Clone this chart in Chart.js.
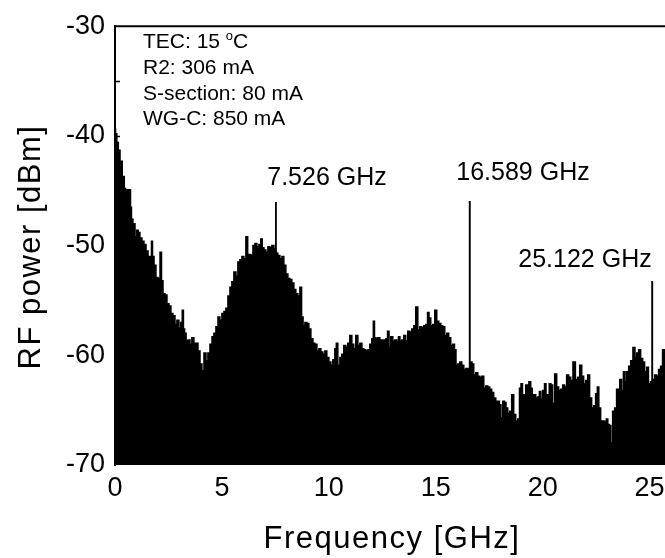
<!DOCTYPE html>
<html>
<head>
<meta charset="utf-8">
<script src="https://cdn.jsdelivr.net/npm/chart.js@4.4.1/dist/chart.umd.min.js"></script>
<style>
  html, body { margin: 0; padding: 0; background: #fff; overflow: hidden; }
  #wrap { position: absolute; left: 0; top: 0; width: 690px; height: 558px; }
</style>
</head>
<body>
<div id="wrap"><canvas id="c"></canvas></div>
<script>
// Frequency axis values (GHz)
const freq = [
  0.00,0.05,0.12,0.19,0.28,0.40,0.47,0.51,0.56,0.63,0.70,0.75,0.79,0.89,0.98,1.05,1.12,1.21,1.31,1.40,
  1.50,1.59,1.68,1.73,1.78,1.87,1.96,2.06,2.15,2.20,2.29,2.38,2.48,2.57,2.66,2.76,2.85,2.94,3.04,3.11,
  3.18,3.22,3.29,3.36,3.46,3.55,3.64,3.74,3.83,3.93,4.02,4.11,4.21,4.30,4.39,4.49,4.58,4.67,4.77,4.86,
  4.95,5.05,5.14,5.23,5.33,5.42,5.51,5.61,5.70,5.79,5.89,5.98,6.07,6.17,6.24,6.31,6.40,6.50,6.59,6.68,
  6.78,6.85,6.92,7.01,7.10,7.20,7.29,7.38,7.48,7.51,7.526,7.54,7.57,7.66,7.76,7.85,7.94,8.04,8.13,8.22,
  8.32,8.41,8.50,8.60,8.69,8.76,8.83,8.93,9.02,9.11,9.21,9.30,9.39,9.49,9.58,9.67,9.77,9.86,9.95,10.05,
  10.14,10.23,10.33,10.37,10.47,10.56,10.65,10.75,10.84,10.93,11.03,11.12,11.21,11.31,11.40,11.50,11.59,11.68,11.78,11.87,
  11.96,12.06,12.10,12.17,12.24,12.34,12.43,12.52,12.62,12.71,12.78,12.85,12.94,13.04,13.13,13.22,13.29,13.36,13.46,13.55,
  13.64,13.74,13.83,13.93,14.02,14.11,14.21,14.30,14.39,14.49,14.58,14.65,14.72,14.81,14.91,15.00,15.09,15.19,15.28,15.37,
  15.47,15.56,15.65,15.75,15.84,15.91,15.98,16.07,16.17,16.26,16.36,16.45,16.52,16.57,16.589,16.61,16.66,16.73,16.82,16.92,
  17.01,17.10,17.20,17.29,17.38,17.48,17.57,17.66,17.76,17.85,17.94,18.01,18.08,18.18,18.25,18.32,18.41,18.50,18.60,18.69,
  18.79,18.88,18.95,19.02,19.09,19.16,19.25,19.32,19.39,19.49,19.53,19.63,19.72,19.81,19.88,19.95,20.05,20.12,20.19,20.26,
  20.35,20.42,20.51,20.61,20.70,20.79,20.89,20.98,21.07,21.17,21.26,21.36,21.47,21.59,21.68,21.78,21.87,21.96,22.06,22.15,
  22.24,22.34,22.43,22.52,22.59,22.66,22.76,22.85,22.94,23.01,23.08,23.15,23.22,23.32,23.41,23.50,23.57,23.64,23.74,23.81,
  23.88,23.97,24.07,24.16,24.28,24.35,24.44,24.53,24.63,24.72,24.81,24.91,24.98,25.10,25.122,25.14,25.19,25.28,25.37,25.47,
  25.56,25.65,25.75,25.93
];
// RF power values (dBm)
const power = [
  -39.4,-39.8,-40.6,-41.3,-42.3,-43.7,-44.8,-46.5,-44.9,-46.8,-44.9,-46.5,-47.6,-48.0,-49.2,-48.6,-48.8,-49.3,-49.6,-49.9,
  -50.5,-51.0,-51.2,-49.6,-51.0,-51.8,-52.9,-53.0,-50.6,-53.2,-54.4,-54.5,-55.3,-55.5,-56.2,-56.4,-57.2,-56.8,-57.5,-57.0,
  -55.9,-57.6,-58.0,-58.7,-58.6,-59.0,-58.4,-58.9,-58.9,-59.6,-60.8,-61.4,-59.8,-60.5,-59.8,-59.0,-58.3,-58.0,-57.4,-56.5,
  -56.8,-56.2,-56.0,-55.7,-54.6,-53.8,-53.3,-52.4,-52.8,-51.5,-51.3,-51.0,-51.2,-49.2,-51.0,-50.8,-50.9,-50.0,-49.8,-50.1,
  -49.9,-49.4,-50.2,-50.4,-50.6,-50.1,-50.2,-50.0,-50.4,-50.3,-46.1,-50.6,-50.7,-50.9,-51.2,-51.0,-51.8,-52.6,-53.0,-53.1,
  -53.4,-54.0,-54.4,-54.6,-53.8,-56.5,-57.3,-57.0,-57.1,-57.6,-58.5,-58.9,-59.0,-59.6,-59.4,-59.7,-59.9,-59.6,-60.2,-60.6,
  -60.9,-60.4,-59.4,-58.9,-60.9,-60.2,-59.9,-59.1,-59.3,-58.9,-58.2,-59.0,-59.4,-58.2,-59.1,-58.9,-59.4,-59.5,-59.6,-59.5,
  -59.0,-58.5,-56.9,-58.4,-58.5,-58.4,-58.6,-58.6,-58.6,-58.5,-57.8,-59.3,-58.3,-58.7,-58.6,-58.8,-58.3,-58.7,-58.6,-58.2,
  -58.7,-57.8,-57.9,-57.6,-57.3,-55.6,-57.7,-57.4,-57.5,-57.3,-57.2,-56.1,-56.6,-57.3,-57.2,-55.9,-56.9,-57.1,-57.3,-57.4,
  -58.2,-58.0,-58.4,-59.1,-59.0,-59.5,-60.9,-60.8,-60.6,-60.9,-61.3,-61.2,-61.4,-61.2,-46.0,-60.7,-60.6,-60.8,-61.8,-61.6,
  -61.9,-62.0,-61.9,-63.0,-62.8,-62.9,-63.1,-63.4,-63.9,-64.2,-64.2,-64.5,-65.7,-64.2,-64.3,-64.8,-65.3,-65.1,-63.6,-65.4,
  -66.0,-65.8,-63.0,-62.6,-64.5,-63.6,-62.7,-64.0,-62.4,-63.0,-66.0,-63.6,-63.9,-63.8,-63.3,-64.0,-63.2,-62.6,-63.8,-63.6,
  -62.6,-62.7,-64.4,-61.7,-62.9,-63.2,-63.1,-62.7,-62.9,-61.8,-62.0,-62.3,-60.6,-62.2,-62.0,-60.9,-61.9,-62.6,-62.3,-61.8,
  -63.9,-64.8,-64.6,-63.5,-62.9,-64.8,-66.0,-66.0,-66.1,-65.8,-66.3,-66.4,-68.0,-65.1,-64.8,-63.1,-64.5,-62.2,-63.2,-61.5,
  -62.4,-61.5,-61.0,-60.5,-59.3,-60.2,-59.8,-59.5,-60.3,-60.6,-61.5,-61.1,-62.6,-62.4,-53.3,-62.2,-62.4,-61.8,-61.9,-61.3,
  -61.0,-59.5,-59.6,-60.0
];
// Tick labels / settings
const xTicks = [0, 5, 10, 15, 20, 25];
const yTicks = [-70, -60, -50, -40, -30];
const xTitle = 'Frequency [GHz]';
const yTitle = 'RF power [dBm]';
const infoLines = ['TEC: 15 ', 'R2: 306 mA', 'S-section: 80 mA', 'WG-C: 850 mA'];
const peakLabels = ['7.526 GHz', '16.589 GHz', '25.122 GHz'];

const points = freq.map((f, i) => ({ x: f, y: power[i] }));
const FONT = '"Liberation Sans", Arial, Helvetica, sans-serif';

const decor = {
  id: 'decor',
  afterDraw(chart) {
    const ctx = chart.ctx;
    const a = chart.chartArea;
    const ys = chart.scales.y;
    ctx.save();
    // top frame line
    ctx.strokeStyle = '#000';
    ctx.lineWidth = 2;
    ctx.beginPath();
    ctx.moveTo(a.left - 1, a.top);
    ctx.lineTo(chart.width, a.top);
    ctx.stroke();
    // inward y ticks every 5 dB
    ctx.lineWidth = 1.5;
    for (let v = -65; v <= -35; v += 5) {
      const y = Math.round(ys.getPixelForValue(v)) + 0.5;
      ctx.beginPath();
      ctx.moveTo(a.left, y);
      ctx.lineTo(a.left + 5, y);
      ctx.stroke();
    }
    // info text
    ctx.fillStyle = '#000';
    ctx.textAlign = 'left';
    ctx.textBaseline = 'alphabetic';
    ctx.font = '21px ' + FONT;
    const bl = [48, 74, 100, 125];
    infoLines.forEach((t, i) => ctx.fillText(t, 143, bl[i]));
    const w = ctx.measureText(infoLines[0]).width;
    ctx.font = '13px ' + FONT;
    ctx.fillText('o', 143 + w, 40);
    const wo = ctx.measureText('o').width;
    ctx.font = '21px ' + FONT;
    ctx.fillText('C', 143 + w + wo, 48);
    // peak labels
    ctx.font = '25px ' + FONT;
    ctx.textAlign = 'center';
    const pos = [[327, 185], [523, 180], [585, 267]];
    peakLabels.forEach((t, i) => ctx.fillText(t, pos[i][0], pos[i][1]));
    // axis titles
    ctx.font = '31px ' + FONT;
    try { ctx.letterSpacing = '1.5px'; } catch (e) {}
    ctx.fillText(xTitle, 392, 548);
    ctx.translate(40, 247);
    ctx.rotate(-Math.PI / 2);
    ctx.fillText(yTitle, 0, 0);
    ctx.restore();
  }
};

new Chart(document.getElementById('c'), {
  type: 'line',
  data: {
    datasets: [{
      data: points,
      borderColor: '#000',
      backgroundColor: '#000',
      borderWidth: 1.5,
      pointRadius: 0,
      tension: 0,
      stepped: 'middle',
      fill: 'start'
    }]
  },
  options: {
    responsive: true,
    maintainAspectRatio: false,
    animation: false,
    events: [],
    layout: { padding: { top: 16, right: 19, left: 0, bottom: 0 } },
    plugins: { legend: { display: false }, tooltip: { enabled: false } },
    scales: {
      x: {
        type: 'linear',
        min: 0, max: 26,
        grid: { display: false, drawTicks: false },
        border: { display: false },
        afterBuildTicks: (s) => { s.ticks = xTicks.map(v => ({ value: v })); },
        afterFit: (s) => { s.height = 93; },
        ticks: { color: '#000', font: { size: 27, family: FONT }, padding: 7, maxRotation: 0 }
      },
      y: {
        type: 'linear',
        min: -70, max: -30,
        grid: { display: false, drawTicks: false },
        border: { display: true, color: '#000', width: 2 },
        afterBuildTicks: (s) => { s.ticks = yTicks.map(v => ({ value: v })); },
        afterFit: (s) => { s.width = 115; },
        ticks: { color: '#000', font: { size: 27, family: FONT }, padding: 10 }
      }
    }
  },
  plugins: [decor]
});
</script>
</body>
</html>
